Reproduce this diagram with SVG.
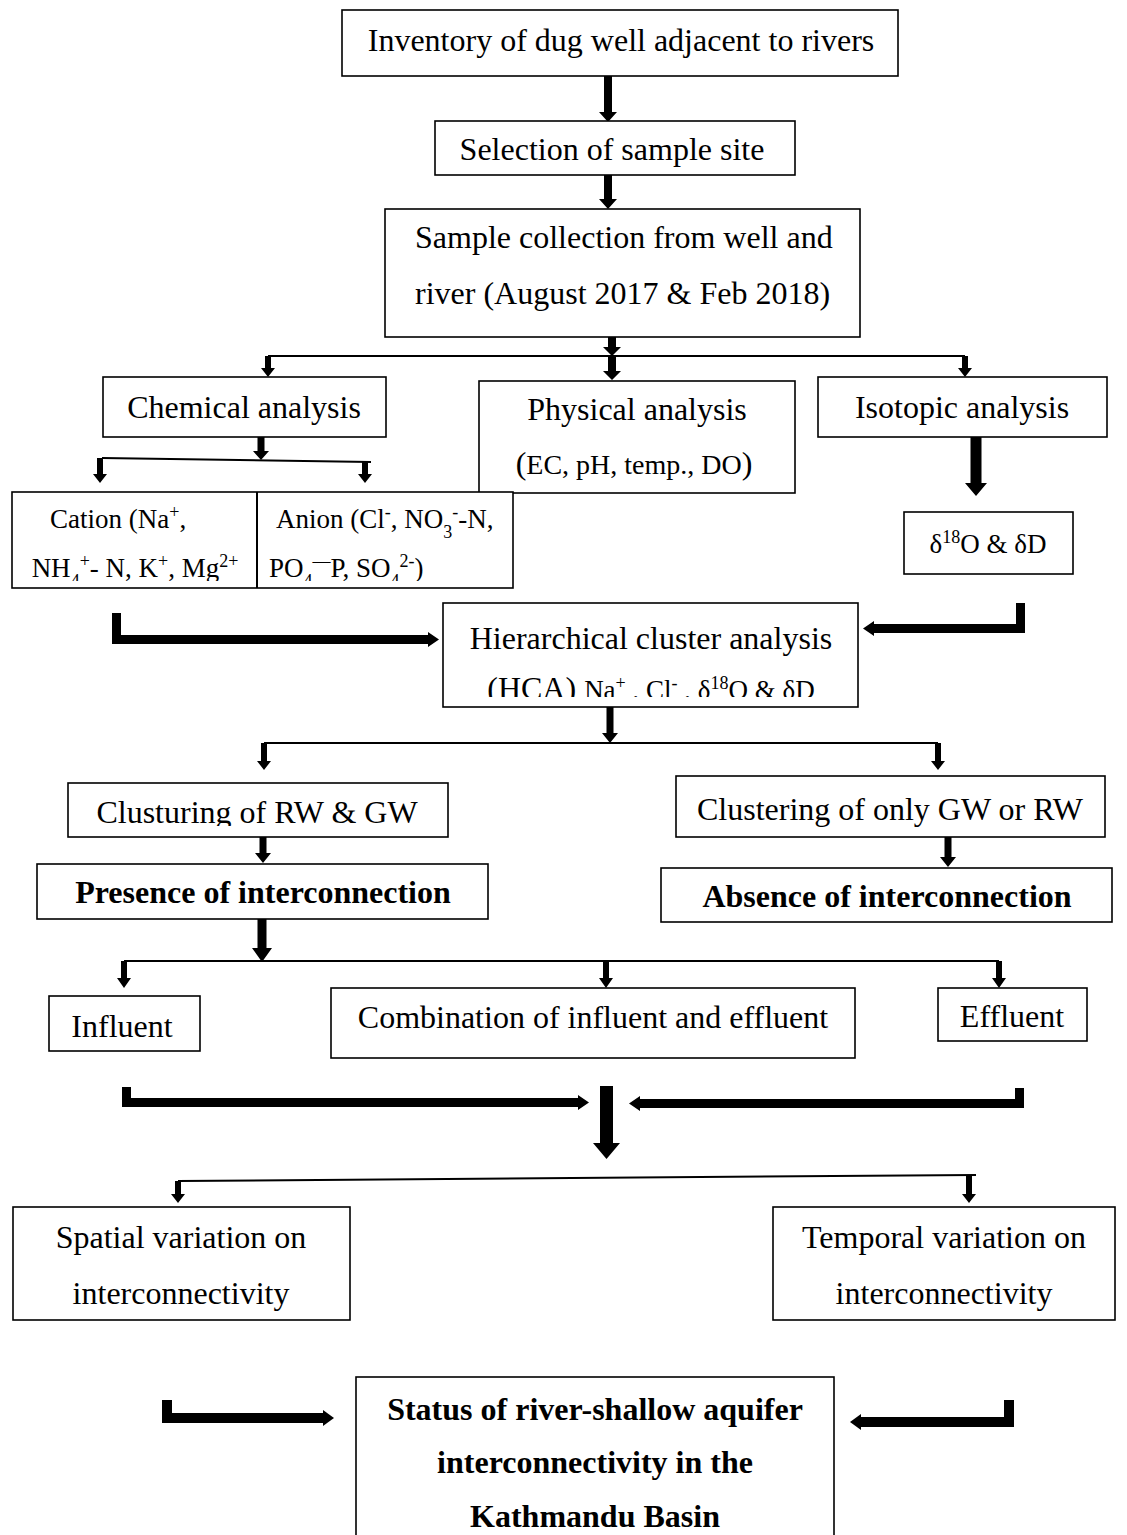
<svg xmlns="http://www.w3.org/2000/svg" width="1127" height="1535" viewBox="0 0 1127 1535">
<style>
.box{fill:#fff;stroke:#000;stroke-width:1.6}
.t{font-family:"Liberation Serif","Times New Roman",serif;font-size:32px;fill:#000;text-anchor:middle}
.l{text-anchor:start}
.b{font-weight:bold}
.s{font-size:27px}
.m{font-size:28px}
.sm{font-size:18px}
.a{fill:#000}
.ln{stroke:#000;stroke-width:2;fill:none}
</style>
<defs>
<clipPath id="cpHCA"><rect x="443" y="603" width="415" height="94"/></clipPath>
<clipPath id="cpIon"><rect x="12" y="492" width="501" height="89"/></clipPath>
<clipPath id="cpClus"><rect x="68" y="783" width="380" height="43"/></clipPath>
</defs>

<g id="connectors">
<polygon class="a" points="604,76 612,76 612,112 617,112 608,122 599,112 604,112"/>
<polygon class="a" points="604,175 612,175 612,199 617,199 608,209 599,199 604,199"/>
<polygon class="a" points="608,337 616,337 616,347 621,347 612,356 603,347 608,347"/>
<line class="ln" x1="268" y1="356" x2="965" y2="356"/>
<polygon class="a" points="608,357 616,357 616,371 621,371 612,380 603,371 608,371"/>
<polygon class="a" points="265,356 271,356 271,368 275,368 268,377 261,368 265,368"/>
<polygon class="a" points="962,356 968,356 968,368 972,368 965,377 958,368 962,368"/>
<polygon class="a" points="257.5,437 264.5,437 264.5,451 269,451 261,460 253,451 257.5,451"/>
<line class="ln" x1="102" y1="458" x2="371" y2="462"/>
<polygon class="a" points="97,458 103,458 103,474 107,474 100,483 93,474 97,474"/>
<polygon class="a" points="362,462 368,462 368,474 372,474 365,483 358,474 362,474"/>
<polygon class="a" points="970.5,437 981.5,437 981.5,483 987,483 976,496 965,483 970.5,483"/>
<path class="a" d="M112,613 L121,613 L121,635 L428,635 L428,632 L439,639.5 L428,647 L428,644 L112,644 Z"/>
<path class="a" d="M1025,603 L1016,603 L1016,624 L874,624 L874,621 L863,628.5 L874,636 L874,633 L1025,633 Z"/>
<polygon class="a" points="606.5,707 613.5,707 613.5,733 618,733 610,743 602,733 606.5,733"/>
<line class="ln" x1="264" y1="743" x2="938" y2="743"/>
<polygon class="a" points="261,743 267,743 267,761 271,761 264,770 257,761 261,761"/>
<polygon class="a" points="935,743 941,743 941,761 945,761 938,770 931,761 935,761"/>
<polygon class="a" points="259.5,837 266.5,837 266.5,853 271,853 263,863 255,853 259.5,853"/>
<polygon class="a" points="944.5,837 951.5,837 951.5,857 956,857 948,867 940,857 944.5,857"/>
<polygon class="a" points="257.5,919 266.5,919 266.5,948 272,948 262,962 252,948 257.5,948"/>
<line class="ln" x1="124" y1="961" x2="999" y2="961"/>
<polygon class="a" points="121,961 127,961 127,978 131,978 124,988 117,978 121,978"/>
<polygon class="a" points="603,961 609,961 609,978 613,978 606,988 599,978 603,978"/>
<polygon class="a" points="996,961 1002,961 1002,978 1006,978 999,988 992,978 996,978"/>
<path class="a" d="M122,1087 L131,1087 L131,1098 L578,1098 L578,1095 L589,1102.5 L578,1110 L578,1107 L122,1107 Z"/>
<path class="a" d="M1024,1088 L1015,1088 L1015,1099 L640,1099 L640,1096 L629,1103.5 L640,1111 L640,1108 L1024,1108 Z"/>
<polygon class="a" points="600,1086 613,1086 613,1143 620,1143 606.5,1159 593,1143 600,1143"/>
<line class="ln" x1="178" y1="1181" x2="976" y2="1175"/>
<polygon class="a" points="175,1181 181,1181 181,1194 185,1194 178,1203 171,1194 175,1194"/>
<polygon class="a" points="966,1175 972,1175 972,1194 976,1194 969,1203 962,1194 966,1194"/>
<path class="a" d="M162,1400 L172,1400 L172,1413 L323,1413 L323,1410 L334,1418 L323,1426 L323,1423 L162,1423 Z"/>
<path class="a" d="M1014,1400 L1004,1400 L1004,1417 L861,1417 L861,1414 L850,1422 L861,1430 L861,1427 L1014,1427 Z"/>
</g>

<g id="n-inventory">
<rect class="box" x="342" y="10" width="556" height="66"/>
<text class="t" x="621" y="51">Inventory of dug well adjacent to rivers</text>
</g>
<g id="n-selection">
<rect class="box" x="435" y="121" width="360" height="54"/>
<text class="t" x="612" y="160">Selection of sample site</text>
</g>
<g id="n-sample">
<rect class="box" x="385" y="209" width="475" height="128"/>
<text class="t l" x="415" y="248">Sample collection from well and</text>
<text class="t l" x="415" y="304">river (August 2017 &amp; Feb 2018)</text>
</g>
<g id="n-chemical">
<rect class="box" x="103" y="377" width="283" height="60"/>
<text class="t" x="244" y="418">Chemical analysis</text>
</g>
<g id="n-physical">
<rect class="box" x="479" y="381" width="316" height="112"/>
<text class="t" x="637" y="420">Physical analysis</text>
<text class="t" x="634" y="474">(<tspan class="m">EC, pH, temp., DO</tspan>)</text>
</g>
<g id="n-isotopic">
<rect class="box" x="818" y="377" width="289" height="60"/>
<text class="t" x="962" y="418">Isotopic analysis</text>
</g>
<g id="n-ions">
<rect class="box" x="12" y="492" width="501" height="96"/>
<line class="ln" x1="257" y1="492" x2="257" y2="588" stroke-width="1.6"/>
<g clip-path="url(#cpIon)">
<text class="t s l" x="50" y="528">Cation (Na<tspan class="sm" baseline-shift="super">+</tspan>,</text>
<text class="t s" x="135" y="577">NH<tspan class="sm" baseline-shift="sub">4</tspan><tspan class="sm" baseline-shift="super">+</tspan>- N, K<tspan class="sm" baseline-shift="super">+</tspan>, Mg<tspan class="sm" baseline-shift="super">2+</tspan></text>
<text class="t s l" x="276" y="528">Anion (Cl<tspan class="sm" baseline-shift="super">-</tspan>, NO<tspan class="sm" baseline-shift="sub">3</tspan><tspan class="sm" baseline-shift="super">-</tspan>-N,</text>
<text class="t s l" x="269" y="577">PO<tspan class="sm" baseline-shift="sub">4</tspan><tspan class="sm" baseline-shift="super">—</tspan>P, SO<tspan class="sm" baseline-shift="sub">4</tspan><tspan class="sm" baseline-shift="super">2-</tspan>)</text>
</g>
</g>
<g id="n-delta">
<rect class="box" x="904" y="512" width="169" height="62"/>
<text class="t s" x="988" y="553">δ<tspan class="sm" baseline-shift="super">18</tspan>O &amp; δD</text>
</g>
<g id="n-hca">
<rect class="box" x="443" y="603" width="415" height="104"/>
<text class="t" x="651" y="649">Hierarchical cluster analysis</text>
<g clip-path="url(#cpHCA)">
<text class="t" x="651" y="699">(HCA) <tspan class="s">Na<tspan class="sm" baseline-shift="super">+</tspan> , Cl<tspan class="sm" baseline-shift="super">-</tspan> , δ<tspan class="sm" baseline-shift="super">18</tspan>O &amp; δD</tspan></text>
</g>
</g>
<g id="n-clus-rwgw">
<rect class="box" x="68" y="783" width="380" height="54"/>
<g clip-path="url(#cpClus)">
<text class="t" x="257" y="823">Clusturing of RW &amp; GW</text>
</g>
</g>
<g id="n-presence">
<rect class="box" x="37" y="864" width="451" height="55"/>
<text class="t b" x="263" y="903">Presence of interconnection</text>
</g>
<g id="n-clus-only">
<rect class="box" x="676" y="776" width="429" height="61"/>
<text class="t" x="890" y="820">Clustering of only GW or RW</text>
</g>
<g id="n-absence">
<rect class="box" x="661" y="868" width="451" height="54"/>
<text class="t b" x="887" y="907">Absence of interconnection</text>
</g>
<g id="n-influent">
<rect class="box" x="49" y="996" width="151" height="55"/>
<text class="t" x="122" y="1037">Influent</text>
</g>
<g id="n-combination">
<rect class="box" x="331" y="988" width="524" height="70"/>
<text class="t" x="593" y="1028">Combination of influent and effluent</text>
</g>
<g id="n-effluent">
<rect class="box" x="938" y="988" width="149" height="53"/>
<text class="t" x="1012" y="1027">Effluent</text>
</g>
<g id="n-spatial">
<rect class="box" x="13" y="1207" width="337" height="113"/>
<text class="t" x="181" y="1248">Spatial variation on</text>
<text class="t" x="181" y="1304">interconnectivity</text>
</g>
<g id="n-temporal">
<rect class="box" x="773" y="1207" width="342" height="113"/>
<text class="t" x="944" y="1248">Temporal variation on</text>
<text class="t" x="944" y="1304">interconnectivity</text>
</g>
<g id="n-status">
<rect class="box" x="356" y="1377" width="478" height="180"/>
<text class="t b" x="595" y="1420">Status of river-shallow aquifer</text>
<text class="t b" x="595" y="1473">interconnectivity in the</text>
<text class="t b" x="595" y="1527">Kathmandu Basin</text>
</g>
</svg>
